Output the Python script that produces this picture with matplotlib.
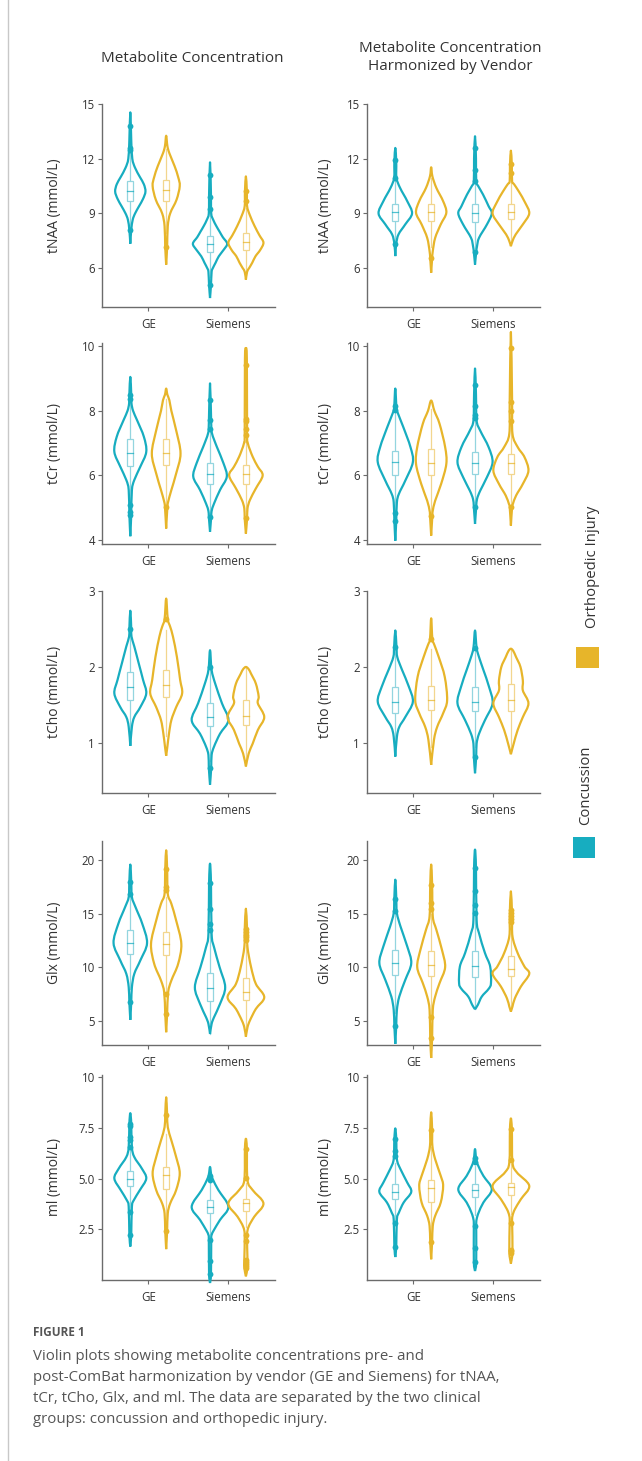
import matplotlib
matplotlib.use('Agg')
import matplotlib.pyplot as plt
from matplotlib.patches import Rectangle, PathPatch
from matplotlib.path import Path
from matplotlib.lines import Line2D

plt.rcParams['font.family'] = ['Open Sans', 'DejaVu Sans']

TEAL = '#17adc0'
GOLD = '#e7b52a'
TEAL_LT = '#93d5df'
GOLD_LT = '#f2d68e'
AX_COL = '#6b6b6b'
TXT_COL = '#333333'

vendors = ['GE', 'Siemens']
groups = ['Concussion', 'Orthopedic Injury']

# each violin: y = profile levels, w = half width at that level (tick spacing = 1),
# box = (q1, median, q3), out = outlier dots -- all read off the figure

# ---- tNAA, raw ----
naa_pre_ge_con = dict(y=[7.34, 8.1, 8.65, 9.0, 9.4, 9.8, 10.2, 10.6, 11.0, 11.5, 12.0, 13.0, 14.54],
                      w=[0, 0.012, 0.03, 0.06, 0.11, 0.16, 0.19, 0.17, 0.12, 0.06, 0.025, 0.012, 0],
                      box=(9.7, 10.25, 10.76), out=[8.1, 12.5, 12.59, 13.78])
naa_pre_ge_ort = dict(y=[6.19, 7.14, 8.3, 9.0, 9.75, 10.5, 11.0, 11.6, 12.3, 12.7, 13.26],
                      w=[0, 0.012, 0.02, 0.05, 0.13, 0.17, 0.15, 0.105, 0.04, 0.015, 0],
                      box=(9.66, 10.27, 10.81), out=[7.14])
naa_pre_si_con = dict(y=[4.36, 5.06, 5.8, 6.0, 6.3, 6.65, 7.0, 7.34, 7.7, 8.0, 8.3, 8.65, 9.0, 10.0, 11.8],
                      w=[0, 0.012, 0.02, 0.035, 0.07, 0.11, 0.17, 0.215, 0.16, 0.12, 0.08, 0.04, 0.015, 0.012, 0],
                      box=(6.88, 7.34, 7.78), out=[5.06, 9.24, 9.88, 11.12])
naa_pre_si_ort = dict(y=[5.37, 5.8, 6.0, 6.3, 6.65, 7.0, 7.4, 7.8, 8.3, 8.9, 9.4, 10.2, 11.03],
                      w=[0, 0.015, 0.04, 0.08, 0.12, 0.18, 0.22, 0.17, 0.11, 0.05, 0.015, 0.012, 0],
                      box=(7.0, 7.41, 7.93), out=[9.66, 10.25])

# ---- tNAA, harmonized ----
naa_post_ge_con = dict(y=[6.66, 7.34, 7.85, 8.4, 9.0, 9.67, 10.4, 10.95, 11.8, 12.59],
                       w=[0, 0.012, 0.04, 0.125, 0.21, 0.15, 0.06, 0.015, 0.012, 0],
                       box=(8.61, 9.07, 9.49), out=[7.34, 10.95, 11.95])
naa_post_ge_ort = dict(y=[5.75, 6.53, 6.93, 7.66, 8.4, 9.04, 9.67, 10.4, 11.04, 11.53],
                       w=[0, 0.012, 0.02, 0.05, 0.12, 0.19, 0.15, 0.065, 0.015, 0],
                       box=(8.58, 9.07, 9.53), out=[6.53])
naa_post_si_con = dict(y=[6.2, 6.88, 7.2, 7.66, 8.4, 9.0, 9.4, 10.04, 10.5, 10.77, 12.0, 13.23],
                       w=[0, 0.015, 0.025, 0.05, 0.15, 0.21, 0.17, 0.1, 0.04, 0.015, 0.012, 0],
                       box=(8.54, 9.02, 9.49), out=[6.88, 10.77, 11.37, 12.59])
naa_post_si_ort = dict(y=[7.2, 7.48, 7.85, 8.4, 9.0, 9.58, 10.2, 10.6, 10.77, 11.6, 12.44],
                       w=[0, 0.02, 0.06, 0.15, 0.23, 0.18, 0.1, 0.04, 0.015, 0.012, 0],
                       box=(8.72, 9.09, 9.53), out=[11.22, 11.72])

# ---- tCr, raw ----
cr_pre_ge_con = dict(y=[4.12, 4.8, 5.55, 5.86, 6.27, 6.73, 7.2, 7.71, 8.0, 8.23, 8.5, 9.05],
                     w=[0, 0.012, 0.02, 0.05, 0.125, 0.2, 0.17, 0.085, 0.035, 0.015, 0.012, 0],
                     box=(6.3, 6.71, 7.12), out=[4.77, 4.88, 5.08, 8.38, 8.48])
cr_pre_ge_ort = dict(y=[4.36, 5.01, 5.19, 5.55, 6.06, 6.68, 7.4, 8.0, 8.33, 8.5, 8.69],
                     w=[0, 0.015, 0.025, 0.065, 0.125, 0.18, 0.125, 0.065, 0.04, 0.015, 0],
                     box=(6.32, 6.7, 7.14), out=[5.01])
cr_pre_si_con = dict(y=[4.26, 4.72, 4.9, 5.13, 5.55, 5.96, 6.37, 6.89, 7.3, 7.6, 8.85],
                     w=[0, 0.015, 0.02, 0.05, 0.125, 0.21, 0.17, 0.085, 0.025, 0.015, 0],
                     box=(5.73, 6.06, 6.39), out=[4.72, 7.45, 7.73, 8.35])
cr_pre_si_ort = dict(y=[4.2, 4.67, 4.98, 5.24, 5.6, 6.0, 6.27, 6.58, 6.99, 7.3, 9.6, 9.93],
                     w=[0, 0.015, 0.02, 0.05, 0.125, 0.21, 0.15, 0.085, 0.025, 0.015, 0.012, 0],
                     box=(5.75, 6.04, 6.32), out=[4.67, 7.25, 7.45, 7.7, 7.74, 9.41])

# ---- tCr, harmonized ----
cr_post_ge_con = dict(y=[3.98, 4.6, 5.17, 5.43, 5.84, 6.41, 6.88, 7.5, 7.91, 8.1, 8.69],
                      w=[0, 0.012, 0.02, 0.045, 0.125, 0.22, 0.19, 0.1, 0.035, 0.015, 0],
                      box=(6.0, 6.41, 6.77), out=[4.6, 4.83, 8.04, 8.14])
cr_post_ge_ort = dict(y=[4.14, 4.76, 4.91, 5.22, 5.74, 6.36, 6.88, 7.6, 8.0, 8.32],
                      w=[0, 0.015, 0.02, 0.05, 0.125, 0.19, 0.175, 0.105, 0.04, 0],
                      box=(6.02, 6.38, 6.83), out=[4.76])
cr_post_si_con = dict(y=[4.5, 5.02, 5.27, 5.53, 5.95, 6.41, 6.88, 7.39, 7.7, 8.5, 9.31],
                      w=[0, 0.015, 0.025, 0.065, 0.15, 0.22, 0.17, 0.065, 0.02, 0.012, 0],
                      box=(6.05, 6.38, 6.74), out=[5.02, 7.79, 7.86, 8.14, 8.79])
cr_post_si_ort = dict(y=[4.45, 5.02, 5.12, 5.38, 5.74, 6.15, 6.57, 6.88, 7.29, 8.3, 10.44],
                      w=[0, 0.015, 0.025, 0.065, 0.15, 0.22, 0.17, 0.085, 0.02, 0.015, 0],
                      box=(6.05, 6.38, 6.67), out=[5.02, 7.69, 7.99, 8.28, 9.93])

# ---- tCho, raw ----
cho_pre_ge_con = dict(y=[0.96, 1.21, 1.34, 1.47, 1.65, 1.83, 2.05, 2.27, 2.4, 2.5, 2.74],
                      w=[0, 0.02, 0.05, 0.125, 0.2, 0.16, 0.105, 0.05, 0.015, 0.012, 0],
                      box=(1.57, 1.73, 1.93), out=[2.5])
cho_pre_ge_ort = dict(y=[0.83, 0.95, 1.12, 1.3, 1.47, 1.65, 1.83, 2.13, 2.4, 2.53, 2.63, 2.9],
                      w=[0, 0.015, 0.035, 0.065, 0.125, 0.2, 0.175, 0.135, 0.085, 0.05, 0.02, 0],
                      box=(1.61, 1.76, 1.96), out=[2.63])
cho_pre_si_con = dict(y=[0.45, 0.67, 0.84, 0.95, 1.12, 1.3, 1.52, 1.78, 1.96, 2.22],
                      w=[0, 0.015, 0.02, 0.05, 0.125, 0.23, 0.15, 0.065, 0.02, 0],
                      box=(1.22, 1.34, 1.53), out=[0.67, 2.0])
cho_pre_si_ort = dict(y=[0.69, 0.86, 0.99, 1.17, 1.34, 1.52, 1.61, 1.78, 1.91, 1.97, 2.0],
                      w=[0, 0.035, 0.085, 0.15, 0.23, 0.15, 0.16, 0.125, 0.065, 0.035, 0],
                      box=(1.23, 1.35, 1.56), out=[])

# ---- tCho, harmonized ----
cho_post_ge_con = dict(y=[0.82, 1.08, 1.21, 1.34, 1.54, 1.74, 1.96, 2.13, 2.26, 2.48],
                       w=[0, 0.02, 0.05, 0.125, 0.22, 0.17, 0.085, 0.025, 0.015, 0],
                       box=(1.4, 1.54, 1.73), out=[2.26])
cho_post_ge_ort = dict(y=[0.71, 1.04, 1.21, 1.39, 1.56, 1.87, 2.13, 2.29, 2.37, 2.64],
                       w=[0, 0.035, 0.075, 0.15, 0.2, 0.17, 0.095, 0.04, 0.015, 0],
                       box=(1.43, 1.57, 1.75), out=[2.37])
cho_post_si_con = dict(y=[0.6, 0.82, 0.99, 1.12, 1.3, 1.52, 1.74, 1.96, 2.13, 2.25, 2.48],
                       w=[0, 0.015, 0.02, 0.05, 0.125, 0.22, 0.175, 0.105, 0.05, 0.02, 0],
                       box=(1.42, 1.54, 1.74), out=[0.82, 2.25])
cho_post_si_ort = dict(y=[0.85, 0.99, 1.17, 1.34, 1.52, 1.69, 1.82, 2.0, 2.13, 2.21, 2.24],
                       w=[0, 0.035, 0.085, 0.15, 0.22, 0.15, 0.15, 0.12, 0.065, 0.03, 0],
                       box=(1.42, 1.56, 1.77), out=[])

# ---- Glx, raw ----
glx_pre_ge_con = dict(y=[5.11, 6.76, 8.16, 9.41, 10.65, 12.27, 14.08, 15.64, 16.57, 18.0, 19.6],
                      w=[0, 0.012, 0.02, 0.05, 0.125, 0.21, 0.15, 0.065, 0.02, 0.012, 0],
                      box=(11.28, 12.3, 13.46), out=[6.76, 16.88, 17.97])
glx_pre_ge_ort = dict(y=[3.96, 5.67, 7.7, 8.79, 10.34, 12.21, 14.39, 15.95, 16.88, 19.2, 20.93],
                      w=[0, 0.012, 0.025, 0.065, 0.15, 0.19, 0.125, 0.065, 0.02, 0.012, 0],
                      box=(11.12, 12.15, 13.3), out=[5.67, 7.54, 17.2, 17.5, 19.22])
glx_pre_si_con = dict(y=[3.8, 4.74, 5.36, 6.6, 8.16, 10.03, 11.9, 13.15, 17.9, 19.69],
                      w=[0, 0.02, 0.05, 0.125, 0.19, 0.12, 0.05, 0.02, 0.012, 0],
                      box=(6.92, 8.07, 9.47), out=[13.46, 14.08, 15.48, 17.88])
glx_pre_si_ort = dict(y=[3.55, 4.42, 5.05, 6.14, 7.23, 8.47, 10.03, 11.9, 13.5, 15.48],
                      w=[0, 0.02, 0.05, 0.125, 0.23, 0.125, 0.065, 0.02, 0.015, 0],
                      box=(7.01, 7.7, 9.03), out=[12.6, 12.8, 13.0, 13.3, 13.6])

# ---- Glx, harmonized ----
glx_post_ge_con = dict(y=[2.87, 4.58, 6.04, 7.29, 8.84, 10.4, 11.96, 13.83, 15.08, 16.5, 18.19],
                       w=[0, 0.012, 0.02, 0.05, 0.125, 0.2, 0.15, 0.065, 0.02, 0.012, 0],
                       box=(9.31, 10.4, 11.65), out=[4.58, 15.23, 16.42])
glx_post_ge_ort = dict(y=[1.56, 3.4, 6.04, 7.29, 8.54, 10.03, 11.65, 13.52, 14.77, 17.7, 19.6],
                       w=[0, 0.012, 0.02, 0.05, 0.105, 0.175, 0.135, 0.065, 0.02, 0.012, 0],
                       box=(9.16, 10.25, 11.5), out=[3.4, 5.42, 15.5, 16.0, 17.73])
glx_post_si_con = dict(y=[6.1, 6.51, 7.29, 8.0, 8.54, 10.09, 11.34, 13.2, 14.45, 19.3, 21.0],
                       w=[0, 0.035, 0.085, 0.17, 0.2, 0.19, 0.125, 0.05, 0.02, 0.012, 0],
                       box=(9.1, 10.16, 11.5), out=[15.08, 15.86, 17.1, 19.28])
glx_post_si_ort = dict(y=[5.89, 6.36, 7.13, 8.22, 9.4, 10.09, 11.34, 12.9, 14.8, 17.1],
                       w=[0, 0.02, 0.05, 0.125, 0.23, 0.17, 0.085, 0.02, 0.015, 0],
                       box=(9.22, 9.84, 11.1), out=[14.2, 14.5, 14.8, 15.1, 15.4])

# ---- mI, raw ----
mi_pre_ge_con = dict(y=[1.65, 2.22, 3.61, 3.94, 4.43, 5.0, 5.49, 6.06, 6.55, 7.7, 8.22],
                     w=[0, 0.012, 0.02, 0.045, 0.12, 0.2, 0.145, 0.05, 0.02, 0.012, 0],
                     box=(4.62, 5.0, 5.38), out=[2.22, 3.37, 6.55, 6.88, 7.04, 7.6, 7.7])
mi_pre_ge_ort = dict(y=[1.52, 2.42, 3.28, 3.77, 4.43, 5.25, 6.06, 6.88, 7.53, 8.14, 9.0],
                     w=[0, 0.012, 0.02, 0.05, 0.125, 0.17, 0.125, 0.065, 0.02, 0.012, 0],
                     box=(4.48, 5.16, 5.57), out=[2.42, 8.14])
mi_pre_si_con = dict(y=[-0.15, 0.31, 1.98, 2.22, 2.47, 2.96, 3.61, 4.43, 4.92, 5.2, 5.57],
                     w=[0, 0.012, 0.015, 0.02, 0.05, 0.125, 0.23, 0.105, 0.04, 0.015, 0],
                     box=(3.28, 3.61, 3.94), out=[0.31, 0.96, 1.98, 4.95, 5.1])
mi_pre_si_ort = dict(y=[0.18, 0.6, 1.0, 2.2, 2.63, 3.12, 3.77, 4.43, 4.92, 6.5, 6.96],
                     w=[0, 0.02, 0.02, 0.015, 0.035, 0.105, 0.22, 0.085, 0.02, 0.012, 0],
                     box=(3.42, 3.77, 3.97), out=[0.6, 0.7, 0.8, 0.9, 1.0, 1.9, 2.22, 5.05, 6.47])

# ---- mI, harmonized ----
mi_post_ge_con = dict(y=[1.13, 1.64, 2.99, 3.32, 3.82, 4.34, 4.8, 5.46, 5.95, 6.94, 7.47],
                      w=[0, 0.012, 0.02, 0.045, 0.105, 0.2, 0.15, 0.065, 0.02, 0.012, 0],
                      box=(4.01, 4.34, 4.72), out=[1.64, 2.8, 6.1, 6.37, 6.94])
mi_post_ge_ort = dict(y=[1.02, 1.88, 2.66, 3.16, 3.82, 4.64, 5.13, 5.95, 6.61, 7.4, 8.26],
                      w=[0, 0.012, 0.02, 0.05, 0.12, 0.15, 0.12, 0.05, 0.015, 0.012, 0],
                      box=(3.85, 4.52, 4.93), out=[1.88, 7.4])
mi_post_si_con = dict(y=[0.44, 0.9, 2.66, 2.99, 3.32, 3.82, 4.47, 5.13, 5.63, 5.95, 6.45],
                      w=[0, 0.015, 0.015, 0.02, 0.045, 0.105, 0.21, 0.105, 0.04, 0.015, 0],
                      box=(4.11, 4.44, 4.72), out=[0.9, 1.6, 2.66, 5.79, 5.99])
mi_post_si_ort = dict(y=[0.81, 1.4, 2.83, 3.16, 3.49, 3.98, 4.64, 5.3, 5.79, 7.43, 7.96],
                      w=[0, 0.02, 0.015, 0.02, 0.05, 0.125, 0.23, 0.075, 0.02, 0.012, 0],
                      box=(4.18, 4.56, 4.8), out=[1.35, 1.45, 1.5, 2.83, 5.92, 7.43])

metabolites = ['tNAA', 'tCr', 'tCho', 'Glx', 'ml']
ylims = [(3.87, 15.0), (3.88, 10.1), (0.34, 3.0), (2.77, 21.8), (0.0, 10.1)]
yticks = [[6, 9, 12, 15], [4, 6, 8, 10], [1, 2, 3], [5, 10, 15, 20], [2.5, 5.0, 7.5, 10]]
yticklabels = [['6', '9', '12', '15'], ['4', '6', '8', '10'], ['1', '2', '3'],
               ['5', '10', '15', '20'], ['2.5', '5.0', '7.5', '10']]

raw_panels = [
    [naa_pre_ge_con, naa_pre_ge_ort, naa_pre_si_con, naa_pre_si_ort],
    [cr_pre_ge_con, cr_pre_ge_ort, cr_pre_si_con, cr_pre_si_ort],
    [cho_pre_ge_con, cho_pre_ge_ort, cho_pre_si_con, cho_pre_si_ort],
    [glx_pre_ge_con, glx_pre_ge_ort, glx_pre_si_con, glx_pre_si_ort],
    [mi_pre_ge_con, mi_pre_ge_ort, mi_pre_si_con, mi_pre_si_ort],
]
harm_panels = [
    [naa_post_ge_con, naa_post_ge_ort, naa_post_si_con, naa_post_si_ort],
    [cr_post_ge_con, cr_post_ge_ort, cr_post_si_con, cr_post_si_ort],
    [cho_post_ge_con, cho_post_ge_ort, cho_post_si_con, cho_post_si_ort],
    [glx_post_ge_con, glx_post_ge_ort, glx_post_si_con, glx_post_si_ort],
    [mi_post_ge_con, mi_post_ge_ort, mi_post_si_con, mi_post_si_ort],
]

# layout in pixels (figure is 642 x 1461)
W, H = 642, 1461
row_px = [(104, 307), (343, 544), (591, 793), (841, 1045), (1075, 1280)]
col_px = [(102, 275), (367, 540)]
label_x = [-0.233, -0.197]
dodge = 0.225


def smooth_path(xs, ys):
    # closed outline through the read points, drawn as Catmull-Rom style bezier segments
    pts = list(zip(xs, ys))
    n = len(pts)
    verts = [pts[0]]
    codes = [Path.MOVETO]
    for i in range(n - 1):
        p0 = pts[i - 1] if i > 0 else pts[i]
        p1 = pts[i]
        p2 = pts[i + 1]
        p3 = pts[i + 2] if i + 2 < n else pts[i + 1]
        c1 = (p1[0] + (p2[0] - p0[0]) / 6, p1[1] + (p2[1] - p0[1]) / 6)
        c2 = (p2[0] - (p3[0] - p1[0]) / 6, p2[1] - (p3[1] - p1[1]) / 6)
        verts += [c1, c2, p2]
        codes += [Path.CURVE4] * 3
    return Path(verts, codes)


def draw_violin(ax, xc, v, col, col_lt):
    ys, ws = v['y'], v['w']
    xs = [xc + w for w in ws] + [xc - w for w in ws[::-1]][1:]
    yy = ys + ys[::-1][1:]
    path = smooth_path(xs, yy)
    ax.add_patch(PathPatch(path, facecolor='white', edgecolor='none', zorder=2, clip_on=False))
    q1, med, q3 = v['box']
    iqr = q3 - q1
    wlo = max(min(ys), q1 - 1.5 * iqr)
    whi = min(max(ys), q3 + 1.5 * iqr)
    ax.plot([xc, xc], [wlo, q1], color=col_lt, lw=0.9, zorder=2.5, clip_on=False)
    ax.plot([xc, xc], [q3, whi], color=col_lt, lw=0.9, zorder=2.5, clip_on=False)
    ax.add_patch(PathPatch(path, facecolor='none', edgecolor=col, lw=1.6, zorder=3,
                           joinstyle='round', clip_on=False))
    ax.add_patch(Rectangle((xc - 0.036, q1), 0.072, iqr, facecolor='white',
                           edgecolor=col_lt, lw=0.9, zorder=3.5))
    ax.plot([xc - 0.036, xc + 0.036], [med, med], color=col, lw=0.9, alpha=0.75, zorder=3.6)
    if v['out']:
        ax.plot([xc] * len(v['out']), v['out'], 'o', color=col, ms=4.2, mew=0,
                zorder=4, clip_on=False)


fig = plt.figure(figsize=(W / 100, H / 100), dpi=100)

for c, panels in enumerate([raw_panels, harm_panels]):
    for r, violins in enumerate(panels):
        top, bot = row_px[r]
        left, right = col_px[c]
        ax = fig.add_axes([left / W, 1 - bot / H, (right - left) / W, (bot - top) / H])
        ax.set_xlim(-0.58, 1.59)
        ax.set_ylim(*ylims[r])
        for k, v in enumerate(violins):
            vend = k // 2
            grp = k % 2
            xc = vend + (-dodge if grp == 0 else dodge)
            draw_violin(ax, xc, v, TEAL if grp == 0 else GOLD,
                        TEAL_LT if grp == 0 else GOLD_LT)
        ax.set_xticks([0, 1])
        ax.set_xticklabels(vendors)
        ax.set_yticks(yticks[r])
        ax.set_yticklabels(yticklabels[r])
        ax.set_ylabel(f'{metabolites[r]} (mmol/L)', fontsize=10, color=TXT_COL)
        ax.yaxis.set_label_coords(label_x[c], 0.5)
        for s in ['top', 'right']:
            ax.spines[s].set_visible(False)
        for s in ['left', 'bottom']:
            ax.spines[s].set_color(AX_COL)
            ax.spines[s].set_linewidth(1.0)
        ax.tick_params(axis='both', colors=AX_COL, labelcolor=TXT_COL, labelsize=8.3,
                       length=3, width=0.8)
        ax.tick_params(axis='x', pad=5)
        ax.tick_params(axis='y', pad=2)
        ax.set_facecolor('none')

fig.text(192 / W, 1 - 59 / H, 'Metabolite Concentration', ha='center', va='center',
         fontsize=11, color=TXT_COL)
fig.text(450 / W, 1 - 57.5 / H, 'Metabolite Concentration\nHarmonized by Vendor',
         ha='center', va='center', fontsize=11, color=TXT_COL, linespacing=1.25)

# legend, rotated
fig.patches.append(Rectangle((576 / W, 1 - 668 / H), 23 / W, 21 / H, transform=fig.transFigure,
                             facecolor=GOLD, edgecolor='none'))
fig.patches.append(Rectangle((573 / W, 1 - 858 / H), 22 / W, 21 / H, transform=fig.transFigure,
                             facecolor=TEAL, edgecolor='none'))
fig.text(592 / W, 1 - 567 / H, groups[1], rotation=90, ha='center', va='center',
         fontsize=10.7, color=TXT_COL)
fig.text(586 / W, 1 - 785 / H, groups[0], rotation=90, ha='center', va='center',
         fontsize=10.7, color=TXT_COL)

# page border and caption
fig.add_artist(Line2D([8 / W, 8 / W], [0, 1], transform=fig.transFigure, color='#c8c8c8', lw=1))
fig.text(33 / W, 1 - 1332 / H, 'FIGURE 1', ha='left', va='center', fontsize=8.5,
         color='#555555', fontweight='bold')
fig.text(33 / W, 1 - 1349 / H,
         'Violin plots showing metabolite concentrations pre- and\n'
         'post-ComBat harmonization by vendor (GE and Siemens) for tNAA,\n'
         'tCr, tCho, Glx, and ml. The data are separated by the two clinical\n'
         'groups: concussion and orthopedic injury.',
         ha='left', va='top', fontsize=10.8, color='#555555', linespacing=1.55)

fig.savefig('out.png', dpi=100)
plt.close(fig)
